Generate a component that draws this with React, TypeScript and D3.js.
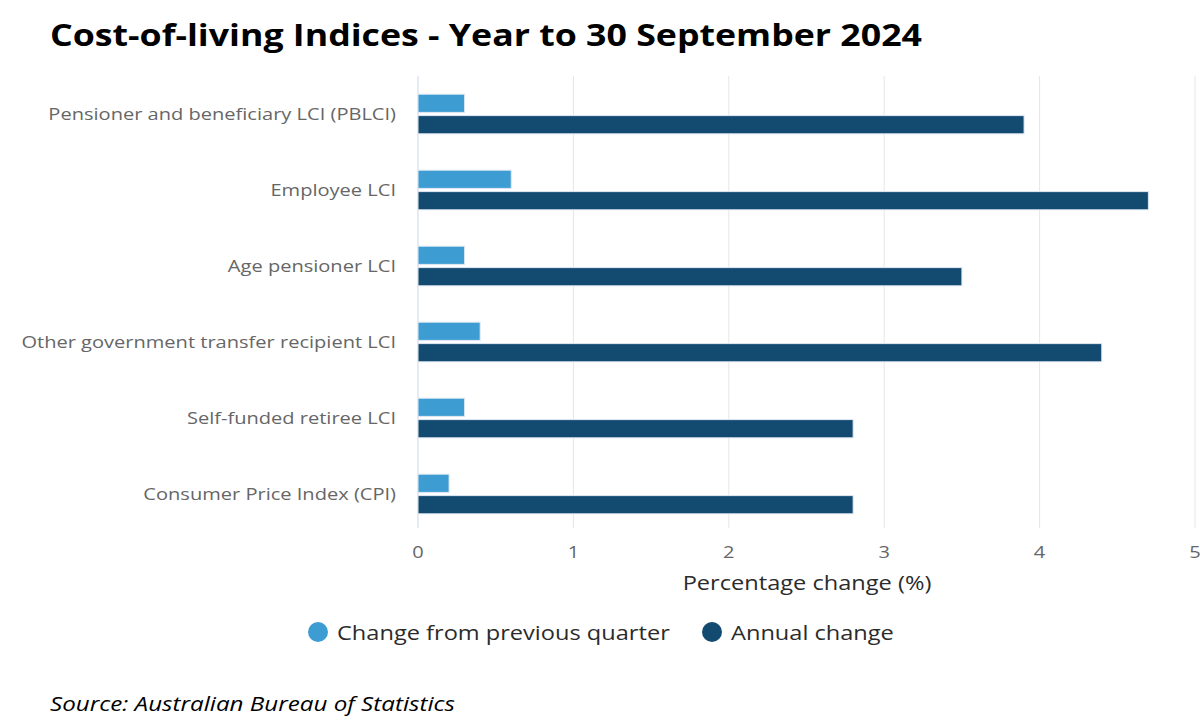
import * as d3 from 'd3';
import type { ReactNode } from 'react';

const categories = [
  'Pensioner and beneficiary LCI (PBLCI)',
  'Employee LCI',
  'Age pensioner LCI',
  'Other government transfer recipient LCI',
  'Self-funded retiree LCI',
  'Consumer Price Index (CPI)',
];
const quarterChange = [0.3, 0.6, 0.3, 0.4, 0.3, 0.2];
const annualChange = [3.9, 4.7, 3.5, 4.4, 2.8, 2.8];
const xTicks = [0, 1, 2, 3, 4, 5];

const seriesNames = ['Change from previous quarter', 'Annual change'];
const colors = ['#3d9dd3', '#134a70'];

const width = 1200;
const height = 720;
const font = '"Open Sans", sans-serif';
// the source image looks stretched sideways, so text is widened a bit
const stretch = 1.18;

type WideTextProps = {
  x: number;
  y: number;
  anchor?: 'start' | 'middle' | 'end';
  size: number;
  fill: string;
  weight?: number;
  italic?: boolean;
  sx?: number;
  children: ReactNode;
};

const WideText = ({ x, y, anchor = 'start', size, fill, weight = 400, italic, sx = stretch, children }: WideTextProps) => (
  <text
    transform={`translate(${x},${y}) scale(${sx},1)`}
    textAnchor={anchor}
    fontSize={size}
    fontWeight={weight}
    fontStyle={italic ? 'italic' : 'normal'}
    fill={fill}
  >
    {children}
  </text>
);

export default function App() {
  const x = d3.scaleLinear().domain([0, 5]).range([418, 1195]);
  const y = d3.scaleBand<string>().domain(categories).range([76, 532]);
  const inner = d3
    .scaleBand<number>()
    .domain([0, 1])
    .range([0, y.bandwidth()])
    .paddingInner(0.15)
    .paddingOuter(0.85);

  const series = [quarterChange, annualChange];

  return (
    <div style={{ position: 'absolute', left: 0, top: 0 }}>
      <svg width={width} height={height} style={{ display: 'block', fontFamily: font }}>
        <rect width={width} height={height} fill="#ffffff" />
        <WideText x={50} y={46} size={30} weight={700} fill="#000" sx={1.19}>
          Cost-of-living Indices - Year to 30 September 2024
        </WideText>

        {/* grid */}
        {xTicks.map((t) => (
          <line
            key={t}
            x1={x(t)}
            x2={x(t)}
            y1={y.range()[0]}
            y2={y.range()[1] - 4}
            stroke={t === 0 ? '#ccd6eb' : '#e6e6e6'}
            strokeWidth={1}
          />
        ))}

        {/* bars */}
        {categories.map((c, i) => (
          <g key={c}>
            {series.map((s, j) => (
              <rect
                key={j}
                x={x(0)}
                y={(y(c) ?? 0) + (inner(j) ?? 0)}
                width={x(s[i]) - x(0)}
                height={inner.bandwidth()}
                fill={colors[j]}
                stroke="#dfe8f2"
                strokeWidth={1}
              />
            ))}
            <WideText x={396} y={(y(c) ?? 0) + y.bandwidth() / 2 + 6} anchor="end" size={17} fill="#666666">
              {c}
            </WideText>
          </g>
        ))}

        {/* x tick labels */}
        {xTicks.map((t) => (
          <WideText key={t} x={x(t)} y={558} anchor="middle" size={17} fill="#666666">
            {t}
          </WideText>
        ))}
        <WideText x={807} y={590} anchor="middle" size={20} fill="#2b2b2b">
          Percentage change (%)
        </WideText>

        {/* legend */}
        <circle cx={318} cy={632} r={10} fill={colors[0]} />
        <WideText x={337} y={640} size={20} fill="#2b2b2b">
          {seriesNames[0]}
        </WideText>
        <circle cx={712} cy={632} r={10} fill={colors[1]} />
        <WideText x={731} y={640} size={20} fill="#2b2b2b">
          {seriesNames[1]}
        </WideText>

        <WideText x={50} y={711} size={20.5} italic fill="#000">
          Source: Australian Bureau of Statistics
        </WideText>
      </svg>
    </div>
  );
}
